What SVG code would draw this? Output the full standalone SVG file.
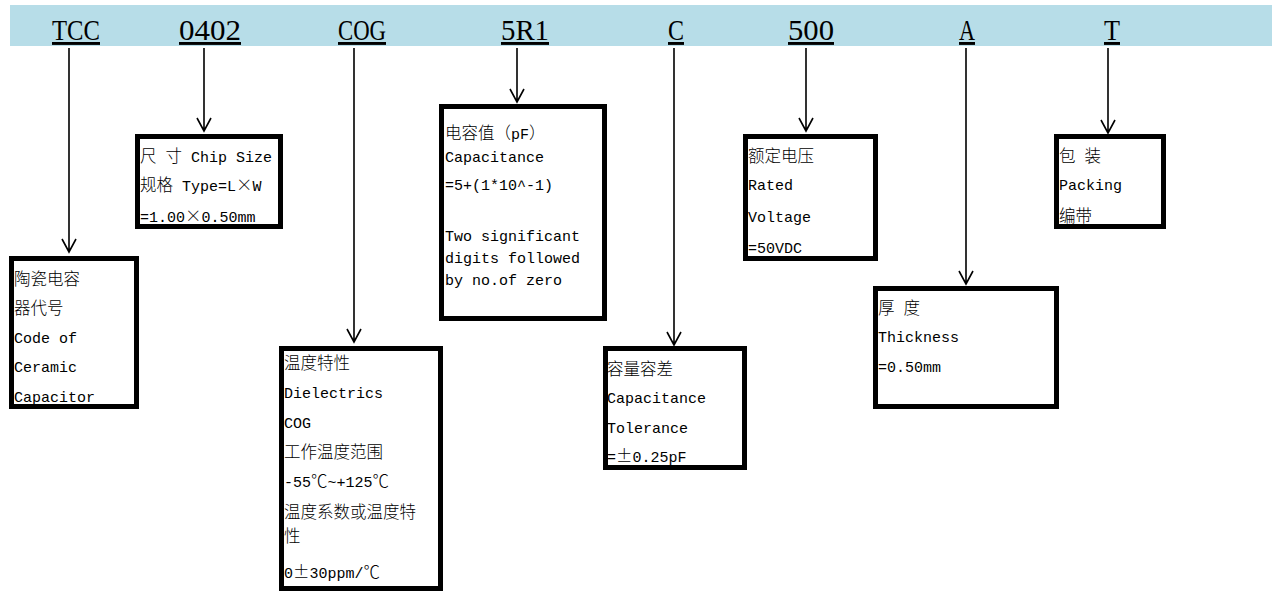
<svg xmlns="http://www.w3.org/2000/svg" width="1280" height="592" viewBox="0 0 1280 592">
<style>
.band{fill:#b7dde8}
.code{font-family:"Liberation Serif","Noto Sans CJK SC",serif;font-size:29px;fill:#000;text-decoration:underline;text-anchor:middle}
.box{fill:#fff;stroke:#000;stroke-width:5}
.t{font-family:"Liberation Mono","Noto Sans CJK SC",monospace;font-size:15px;fill:#000}
.c{font-family:"Noto Sans CJK SC",sans-serif;font-size:16.5px;font-weight:300}
.ln{stroke:#000;stroke-width:1.6;fill:none}
</style>
<rect width="1280" height="592" fill="#fff"/>
<rect class="band" x="10" y="5" width="1262" height="41"/>
<g id="codes">
<text class="code" x="76" y="40" textLength="48" lengthAdjust="spacingAndGlyphs">TCC</text>
<text class="code" x="210" y="40" textLength="62" lengthAdjust="spacingAndGlyphs">0402</text>
<text class="code" x="362" y="40" textLength="48" lengthAdjust="spacingAndGlyphs">COG</text>
<text class="code" x="525" y="40" textLength="48" lengthAdjust="spacingAndGlyphs">5R1</text>
<text class="code" x="676" y="40" textLength="16" lengthAdjust="spacingAndGlyphs">C</text>
<text class="code" x="811" y="40" textLength="46" lengthAdjust="spacingAndGlyphs">500</text>
<text class="code" x="967" y="40" textLength="16" lengthAdjust="spacingAndGlyphs">A</text>
<text class="code" x="1112" y="40" textLength="16" lengthAdjust="spacingAndGlyphs">T</text>
</g>
<g id="connectors">
<path class="ln" d="M69 48V252M62 239L69 252L76 239"/>
<path class="ln" d="M204 48V131M197 118L204 131L211 118"/>
<path class="ln" d="M354 48V342M347 329L354 342L361 329"/>
<path class="ln" d="M517 48V102M510 89L517 102L524 89"/>
<path class="ln" d="M674 48V345M667 332L674 345L681 332"/>
<path class="ln" d="M806 48V131M799 118L806 131L813 118"/>
<path class="ln" d="M966 48V284M959 271L966 284L973 271"/>
<path class="ln" d="M1108 48V133M1101 120L1108 133L1115 120"/>
</g>
<g id="node-tcc">
<rect class="box" x="11.5" y="258.5" width="125" height="148"/>
<text class="t" x="14" y="285"><tspan class="c">陶瓷电容</tspan></text>
<text class="t" x="14" y="314"><tspan class="c">器代号</tspan></text>
<text class="t" x="14" y="343">Code of</text>
<text class="t" x="14" y="372">Ceramic</text>
<text class="t" x="14" y="402">Capacitor</text>
</g>
<g id="node-0402">
<rect class="box" x="137.5" y="136.5" width="143" height="90"/>
<text class="t" x="140" y="162"><tspan class="c">尺</tspan> <tspan class="c">寸</tspan> Chip Size</text>
<text class="t" x="140" y="191"><tspan class="c">规格</tspan> Type=L<tspan class="c">×</tspan>W</text>
<text class="t" x="140" y="222">=1.00<tspan class="c">×</tspan>0.50mm</text>
</g>
<g id="node-cog">
<rect class="box" x="281.5" y="348.5" width="159" height="240"/>
<text class="t" x="284" y="369"><tspan class="c">温度特性</tspan></text>
<text class="t" x="284" y="398">Dielectrics</text>
<text class="t" x="284" y="428">COG</text>
<text class="t" x="284" y="458"><tspan class="c">工作温度范围</tspan></text>
<text class="t" x="284" y="487">-55<tspan class="c">℃</tspan>~+125<tspan class="c">℃</tspan></text>
<text class="t" x="284" y="518"><tspan class="c">温度系数或温度特</tspan></text>
<text class="t" x="284" y="542"><tspan class="c">性</tspan></text>
<text class="t" x="284" y="578">0<tspan class="c">±</tspan>30ppm/<tspan class="c">℃</tspan></text>
</g>
<g id="node-5r1">
<rect class="box" x="441.5" y="106.5" width="163" height="212"/>
<text class="t" x="445" y="139"><tspan class="c">电容值（</tspan>pF<tspan class="c">）</tspan></text>
<text class="t" x="445" y="162">Capacitance</text>
<text class="t" x="445" y="190">=5+(1*10^-1)</text>
<text class="t" x="445" y="241">Two significant</text>
<text class="t" x="445" y="263">digits followed</text>
<text class="t" x="445" y="285">by no.of zero</text>
</g>
<g id="node-c">
<rect class="box" x="605.5" y="348.5" width="139" height="119"/>
<text class="t" x="607" y="375"><tspan class="c">容量容差</tspan></text>
<text class="t" x="607" y="403">Capacitance</text>
<text class="t" x="607" y="433">Tolerance</text>
<text class="t" x="607" y="462">=<tspan class="c">±</tspan>0.25pF</text>
</g>
<g id="node-500">
<rect class="box" x="745.5" y="136.5" width="130" height="122"/>
<text class="t" x="748" y="162"><tspan class="c">额定电压</tspan></text>
<text class="t" x="748" y="190">Rated</text>
<text class="t" x="748" y="222">Voltage</text>
<text class="t" x="748" y="253">=50VDC</text>
</g>
<g id="node-a">
<rect class="box" x="875.5" y="288.5" width="181" height="118"/>
<text class="t" x="878" y="314"><tspan class="c">厚</tspan> <tspan class="c">度</tspan></text>
<text class="t" x="878" y="342">Thickness</text>
<text class="t" x="878" y="372">=0.50mm</text>
</g>
<g id="node-t">
<rect class="box" x="1056.5" y="136.5" width="107" height="90"/>
<text class="t" x="1059" y="162"><tspan class="c">包</tspan> <tspan class="c">装</tspan></text>
<text class="t" x="1059" y="190">Packing</text>
<text class="t" x="1059" y="222"><tspan class="c">编带</tspan></text>
</g>
</svg>
